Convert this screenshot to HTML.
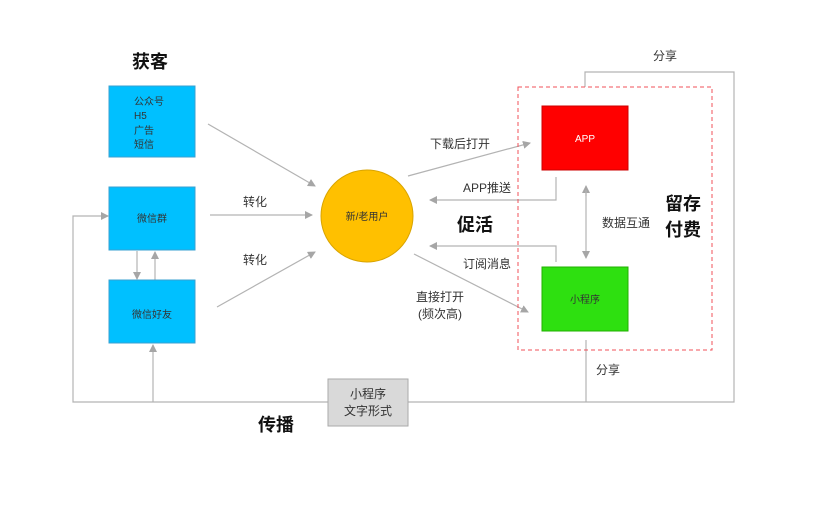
<!DOCTYPE html>
<html><head><meta charset="utf-8"><style>
body{margin:0;width:825px;height:500px;background:#fff;overflow:hidden}
svg text{font-family:"Liberation Sans","Noto Sans CJK SC",sans-serif}
</style></head><body>
<svg width="825" height="500" xmlns="http://www.w3.org/2000/svg">
<defs><marker id="a" markerWidth="8" markerHeight="8" refX="7" refY="4" orient="auto" markerUnits="userSpaceOnUse"><path d="M0,0 L8,4 L0,8z" fill="#a6a6a6"/></marker></defs>
<g stroke="#b3b3b3" stroke-width="1.2" fill="none">
<polyline points="585,87 585,72 734,72 734,402 73,402 73,216 108,216" marker-end="url(#a)"/>
<line x1="153" y1="402" x2="153" y2="345" marker-end="url(#a)"/>
<line x1="586" y1="340" x2="586" y2="402"/>
<line x1="137" y1="251" x2="137" y2="279" marker-end="url(#a)"/>
<line x1="155" y1="280" x2="155" y2="252" marker-end="url(#a)"/>
<line x1="208" y1="124" x2="315" y2="186" marker-end="url(#a)"/>
<line x1="210" y1="215" x2="312" y2="215" marker-end="url(#a)"/>
<line x1="217" y1="307" x2="315" y2="252" marker-end="url(#a)"/>
<line x1="408" y1="176" x2="530" y2="143" marker-end="url(#a)"/>
<polyline points="556,177 556,200 430,200" marker-end="url(#a)"/>
<polyline points="556,262 556,246 430,246" marker-end="url(#a)"/>
<line x1="414" y1="254" x2="528" y2="312" marker-end="url(#a)"/>
<line x1="586" y1="196" x2="586" y2="186" marker-end="url(#a)"/>
<line x1="586" y1="190" x2="586" y2="258" marker-end="url(#a)"/>
</g>
<rect x="518" y="87" width="194" height="263" fill="none" stroke="#f0505a" stroke-width="1" stroke-dasharray="4,3"/>
<rect x="109" y="86" width="86" height="71" fill="#00c0ff" stroke="#3aa0d0"/>
<rect x="109" y="187" width="86" height="63" fill="#00c0ff" stroke="#3aa0d0"/>
<rect x="109" y="280" width="86" height="63" fill="#00c0ff" stroke="#3aa0d0"/>
<circle cx="367" cy="216" r="46" fill="#ffc000" stroke="#d9a400"/>
<rect x="542" y="106" width="86" height="64" fill="#ff0000" stroke="#c00"/>
<rect x="542" y="267" width="86" height="64" fill="#2ee010" stroke="#22b000"/>
<rect x="328" y="379" width="80" height="47" fill="#d9d9d9" stroke="#aaa"/>
<g font-size="10" fill="#333">
<text x="134" y="105">公众号</text><text x="134" y="119">H5</text><text x="134" y="134">广告</text><text x="134" y="148">短信</text>
<text x="152" y="222" text-anchor="middle">微信群</text>
<text x="152" y="318" text-anchor="middle">微信好友</text>
<text x="367" y="220" text-anchor="middle">新/老用户</text>
<text x="585" y="142" text-anchor="middle" fill="#fff">APP</text>
<text x="585" y="303" text-anchor="middle">小程序</text>
</g>
<g font-size="12" fill="#333">
<text x="255" y="206" text-anchor="middle">转化</text>
<text x="255" y="264" text-anchor="middle">转化</text>
<text x="460" y="148" text-anchor="middle">下载后打开</text>
<text x="487" y="192" text-anchor="middle">APP推送</text>
<text x="487" y="268" text-anchor="middle">订阅消息</text>
<text x="440" y="301" text-anchor="middle">直接打开</text>
<text x="440" y="318" text-anchor="middle">(频次高)</text>
<text x="626" y="227" text-anchor="middle">数据互通</text>
<text x="665" y="60" text-anchor="middle">分享</text>
<text x="608" y="374" text-anchor="middle">分享</text>
<text x="368" y="398" text-anchor="middle">小程序</text>
<text x="368" y="415" text-anchor="middle">文字形式</text>
</g>
<g font-size="18" font-weight="bold" fill="#111">
<text x="150" y="68" text-anchor="middle">获客</text>
<text x="475" y="231" text-anchor="middle">促活</text>
<text x="276" y="431" text-anchor="middle">传播</text>
<text x="683" y="210" text-anchor="middle">留存</text>
<text x="683" y="236" text-anchor="middle">付费</text>
</g>
</svg>
</body></html>
